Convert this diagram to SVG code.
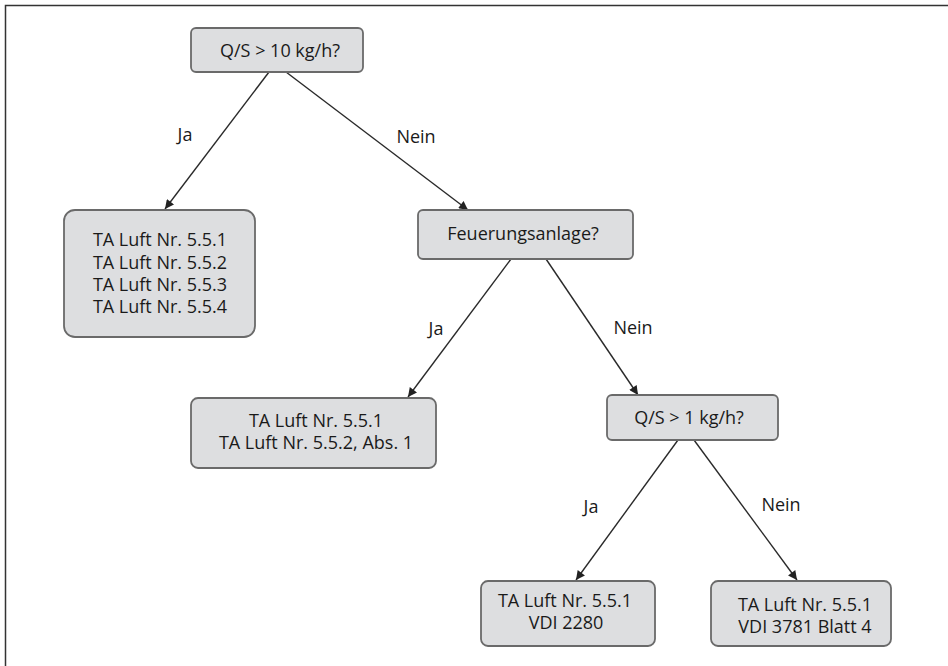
<svg xmlns="http://www.w3.org/2000/svg" width="948" height="666" viewBox="0 0 948 666">
<defs>
<marker id="ah" viewBox="0 0 10 10" refX="10" refY="5" markerWidth="10" markerHeight="9" markerUnits="userSpaceOnUse" orient="auto">
<path d="M0,0 L10,5 L0,10 z" fill="#222"/>
</marker>
</defs>
<style>
.box{fill:#dddee0;stroke:#6a6a6a;stroke-width:1.8}
.t{font-family:"Open Sans","Liberation Sans",sans-serif;font-size:18px;fill:#1a1a1a;text-anchor:middle}
.lbl{font-family:"Open Sans","Liberation Sans",sans-serif;font-size:18px;fill:#1a1a1a;text-anchor:middle}
.c{stroke:#2a2a2a;stroke-width:1.4;fill:none;marker-end:url(#ah)}
</style>
<rect width="948" height="666" fill="#fff"/>
<path d="M5.5,666 V5.5 H948" fill="none" stroke="#333" stroke-width="1.5"/>
<g id="connectors">
<line class="c" x1="269" y1="72" x2="165" y2="209"/>
<line class="c" x1="286" y1="72" x2="468" y2="210"/>
<line class="c" x1="511" y1="259" x2="408" y2="397"/>
<line class="c" x1="546" y1="259" x2="638" y2="395"/>
<line class="c" x1="678" y1="440" x2="576" y2="580"/>
<line class="c" x1="694" y1="440" x2="797" y2="580"/>
<text class="lbl" x="185" y="141">Ja</text>
<text class="lbl" x="416" y="143">Nein</text>
<text class="lbl" x="436" y="335">Ja</text>
<text class="lbl" x="633" y="334">Nein</text>
<text class="lbl" x="591" y="513">Ja</text>
<text class="lbl" x="781" y="511">Nein</text>
</g>
<g id="n1">
<rect class="box" x="191" y="28" width="172" height="44" rx="5"/>
<text class="t" x="280" y="57">Q/S &gt; 10 kg/h?</text>
</g>
<g id="n2">
<rect class="box" x="64" y="210" width="191" height="127" rx="11"/>
<text class="t" x="160" y="246">TA Luft Nr. 5.5.1</text>
<text class="t" x="160" y="269">TA Luft Nr. 5.5.2</text>
<text class="t" x="160" y="291">TA Luft Nr. 5.5.3</text>
<text class="t" x="160" y="313">TA Luft Nr. 5.5.4</text>
</g>
<g id="n3">
<rect class="box" x="418" y="210" width="215" height="49" rx="5"/>
<text class="t" x="523" y="240">Feuerungsanlage?</text>
</g>
<g id="n4">
<rect class="box" x="191" y="398" width="245" height="70" rx="7"/>
<text class="t" x="316" y="427">TA Luft Nr. 5.5.1</text>
<text class="t" x="316" y="449">TA Luft Nr. 5.5.2, Abs. 1</text>
</g>
<g id="n5">
<rect class="box" x="607" y="395" width="171" height="45" rx="5"/>
<text class="t" x="689" y="424">Q/S &gt; 1 kg/h?</text>
</g>
<g id="n6">
<rect class="box" x="481" y="581" width="174" height="65" rx="7"/>
<text class="t" x="565" y="607">TA Luft Nr. 5.5.1</text>
<text class="t" x="566" y="629">VDI 2280</text>
</g>
<g id="n7">
<rect class="box" x="711" y="581" width="180" height="65" rx="7"/>
<text class="t" x="805" y="611">TA Luft Nr. 5.5.1</text>
<text class="t" x="805" y="633">VDI 3781 Blatt 4</text>
</g>
</svg>
